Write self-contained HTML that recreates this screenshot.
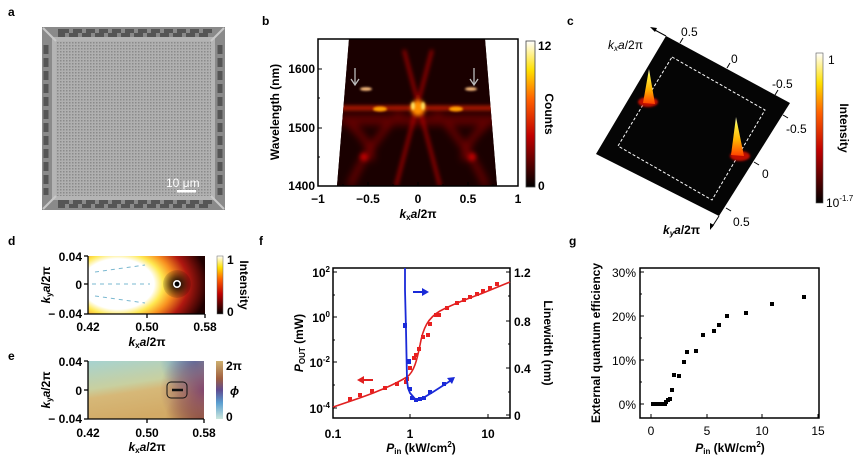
<!DOCTYPE html>
<html><head><meta charset="utf-8"><style>
html,body{margin:0;padding:0;background:#fff}
svg{display:block;font-family:"Liberation Sans",Arial,sans-serif}
.t{font-size:12px;fill:#000}
.tb{font-size:12px;font-weight:bold;fill:#000}
.lb{font-size:12px;font-weight:bold;fill:#000}
</style></head><body>
<svg width="865" height="464" viewBox="0 0 865 464" xmlns="http://www.w3.org/2000/svg">
<defs>
<filter id="bl2" x="-50%" y="-50%" width="200%" height="200%"><feGaussianBlur stdDeviation="2"/></filter>
<filter id="bl1" x="-50%" y="-50%" width="200%" height="200%"><feGaussianBlur stdDeviation="1"/></filter>
<filter id="bl4" x="-50%" y="-50%" width="200%" height="200%"><feGaussianBlur stdDeviation="4"/></filter>
<linearGradient id="hot" x1="0" y1="1" x2="0" y2="0">
<stop offset="0" stop-color="#000"/><stop offset="0.35" stop-color="#c00000"/><stop offset="0.6" stop-color="#ff6000"/><stop offset="0.8" stop-color="#ffe000"/><stop offset="1" stop-color="#fff"/></linearGradient>
<linearGradient id="phs" x1="0" y1="0" x2="0" y2="1">
<stop offset="0" stop-color="#cdb070"/><stop offset="0.3" stop-color="#a06040"/><stop offset="0.5" stop-color="#604c90"/><stop offset="0.72" stop-color="#5a9ed0"/><stop offset="1" stop-color="#cce6dc"/></linearGradient>
<pattern id="grid" width="3" height="3" patternUnits="userSpaceOnUse"><rect width="3" height="3" fill="#b0b0b0"/><rect width="1.5" height="1.5" fill="#8a8a8a"/></pattern>
<radialGradient id="dg" cx="118" cy="284" r="90" gradientUnits="userSpaceOnUse" gradientTransform="translate(118 284) scale(1 0.7) translate(-118 -284)">
<stop offset="0" stop-color="#fff"/><stop offset="0.4" stop-color="#fff"/><stop offset="0.5" stop-color="#ffe850"/><stop offset="0.62" stop-color="#f89020"/><stop offset="0.78" stop-color="#b01810"/><stop offset="1" stop-color="#200000"/></radialGradient>
<radialGradient id="dk" cx="177" cy="284" r="16" gradientUnits="userSpaceOnUse"><stop offset="0" stop-color="#000"/><stop offset="1" stop-color="#000" stop-opacity="0"/></radialGradient>
<linearGradient id="ev" x1="0" y1="0" x2="0.3" y2="1"><stop offset="0" stop-color="#a6d2d0"/><stop offset="0.45" stop-color="#c8d0a0"/><stop offset="0.6" stop-color="#d6b878"/><stop offset="1" stop-color="#d2aa66"/></linearGradient>
<radialGradient id="er" cx="205" cy="390" r="45" gradientUnits="userSpaceOnUse"><stop offset="0" stop-color="#7a3c70" stop-opacity="0.9"/><stop offset="0.6" stop-color="#8a5060" stop-opacity="0.5"/><stop offset="1" stop-color="#8a5060" stop-opacity="0"/></radialGradient>
<radialGradient id="eb" cx="195" cy="361" r="35" gradientUnits="userSpaceOnUse"><stop offset="0" stop-color="#4a7cc0"/><stop offset="1" stop-color="#4a7cc0" stop-opacity="0"/></radialGradient>
<radialGradient id="ebr" cx="200" cy="419" r="35" gradientUnits="userSpaceOnUse"><stop offset="0" stop-color="#9a5a30"/><stop offset="1" stop-color="#9a5a30" stop-opacity="0"/></radialGradient>
<linearGradient id="cone" x1="0" y1="1" x2="0" y2="0"><stop offset="0" stop-color="#ff4000"/><stop offset="0.4" stop-color="#ffb000"/><stop offset="0.8" stop-color="#ffee40"/><stop offset="1" stop-color="#ffffe0"/></linearGradient>
<clipPath id="bclip"><polygon points="349,39 485,39 497,186 337,186"/></clipPath>
</defs>

<text x="8" y="16" class="lb">a</text>
<text x="262" y="25" class="lb">b</text>
<text x="567" y="25" class="lb">c</text>
<text x="8" y="245" class="lb">d</text>
<text x="8" y="360" class="lb">e</text>
<text x="259" y="245" class="lb">f</text>
<text x="569" y="245" class="lb">g</text>

<!-- panel a -->
<rect x="42" y="27" width="183" height="183" fill="#8a8a8a"/>
<rect x="52" y="37" width="163" height="163" fill="#b4b4b4"/>
<rect x="56" y="41" width="155" height="155" fill="url(#grid)"/>
<rect x="60" y="31" width="150" height="4" fill="none" stroke="#555" stroke-width="4" stroke-dasharray="9 4"/>
<rect x="60" y="202" width="150" height="4" fill="none" stroke="#555" stroke-width="4" stroke-dasharray="9 4"/>
<line x1="46" y1="45" x2="46" y2="195" stroke="#555" stroke-width="5" stroke-dasharray="9 4"/>
<line x1="220" y1="45" x2="220" y2="195" stroke="#555" stroke-width="5" stroke-dasharray="9 4"/>
<line x1="43" y1="28" x2="56" y2="41" stroke="#c8c8c8" stroke-width="2"/>
<line x1="224" y1="28" x2="211" y2="41" stroke="#c8c8c8" stroke-width="2"/>
<line x1="43" y1="209" x2="56" y2="196" stroke="#c8c8c8" stroke-width="2"/>
<line x1="224" y1="209" x2="211" y2="196" stroke="#c8c8c8" stroke-width="2"/>
<text x="166" y="187" font-size="12" fill="#fff">10 μm</text>
<rect x="177" y="190" width="19" height="2.5" fill="#fff"/>

<!-- panel b -->
<polygon points="349,39 485,39 497,186 337,186" fill="#140000"/>
<g clip-path="url(#bclip)">
<rect x="330" y="39" width="180" height="147" fill="#1a0000"/>
<g filter="url(#bl4)" stroke="#800000" stroke-width="5" fill="none">
<path d="M350,125 Q370,140 372,160"/><path d="M486,125 Q466,140 464,160"/>
<path d="M400,112 Q365,150 350,186"/><path d="M436,112 Q471,150 486,186"/>
<line x1="340" y1="120" x2="496" y2="120" stroke="#600000" stroke-width="10"/>
</g>
<g filter="url(#bl2)" stroke="#c00800" stroke-width="2.5" fill="none">
<line x1="404" y1="50" x2="440" y2="186"/><line x1="432" y1="50" x2="396" y2="186"/>
<line x1="340" y1="108" x2="496" y2="108" stroke="#e82000" stroke-width="3.5"/>
</g>
<ellipse cx="418" cy="108" rx="7" ry="8" fill="#ff9000" filter="url(#bl2)"/>
<ellipse cx="413" cy="106" rx="2" ry="4" fill="#ffe060" filter="url(#bl1)"/>
<ellipse cx="423" cy="106" rx="2" ry="4" fill="#ffe060" filter="url(#bl1)"/>
<ellipse cx="380" cy="109" rx="7" ry="2.5" fill="#ffa000" filter="url(#bl1)"/>
<ellipse cx="456" cy="109" rx="7" ry="2.5" fill="#ffa000" filter="url(#bl1)"/>
<line x1="345" y1="108" x2="490" y2="108" stroke="#ff7000" stroke-width="1.2" filter="url(#bl1)"/>
<ellipse cx="364" cy="157" rx="4" ry="4" fill="#c00000" filter="url(#bl2)"/>
<ellipse cx="472" cy="157" rx="4" ry="4" fill="#c00000" filter="url(#bl2)"/>
<ellipse cx="366" cy="89" rx="6" ry="1.8" fill="#ffc080" filter="url(#bl1)"/>
<ellipse cx="471" cy="89" rx="6" ry="1.8" fill="#ffc080" filter="url(#bl1)"/>
</g>
<g stroke="#bbb" stroke-width="1.3" fill="none">
<line x1="355" y1="68" x2="355" y2="84"/><polyline points="351,79 355,85 359,79"/>
<line x1="474" y1="68" x2="474" y2="84"/><polyline points="470,79 474,85 478,79"/>
</g>
<rect x="318" y="39" width="200" height="147" fill="none" stroke="#000" stroke-width="1.5"/>
<g stroke="#000" stroke-width="1">
<line x1="318" y1="69" x2="322" y2="69"/><line x1="318" y1="128" x2="322" y2="128"/><line x1="318" y1="98" x2="320" y2="98"/><line x1="318" y1="157" x2="320" y2="157"/>
<line x1="368" y1="186" x2="368" y2="182"/><line x1="418" y1="186" x2="418" y2="182"/><line x1="468" y1="186" x2="468" y2="182"/>
<line x1="343" y1="186" x2="343" y2="184"/><line x1="393" y1="186" x2="393" y2="184"/><line x1="443" y1="186" x2="443" y2="184"/><line x1="493" y1="186" x2="493" y2="184"/>
</g>
<g class="tb" text-anchor="end"><text x="315" y="73">1600</text><text x="315" y="132">1500</text><text x="315" y="190">1400</text></g>
<g class="tb" text-anchor="middle"><text x="318" y="203">−1</text><text x="368" y="203">−0.5</text><text x="418" y="203">0</text><text x="468" y="203">0.5</text><text x="518" y="203">1</text></g>
<text class="tb" text-anchor="middle" transform="translate(279 112) rotate(-90)">Wavelength (nm)</text>
<text class="tb" x="418" y="218" text-anchor="middle"><tspan font-style="italic">k</tspan><tspan font-size="8" dy="2">x</tspan><tspan dy="-2" font-style="italic">a</tspan>/2π</text>
<rect x="526" y="41" width="9" height="146" fill="url(#hot)" stroke="#444" stroke-width="0.8"/>
<text class="tb" x="538" y="50">12</text><text class="tb" x="538" y="190">0</text>
<text class="tb" text-anchor="middle" transform="translate(545 114) rotate(90)">Counts</text>

<!-- panel c -->
<polygon points="666,36 790,103 719,216 596,154" fill="#050505"/>
<polygon points="672,57 765,110 712,200 618,146" fill="none" stroke="#fff" stroke-width="1" stroke-dasharray="3 2"/>
<ellipse cx="648" cy="102" rx="10" ry="5" fill="#c01000" filter="url(#bl1)"/>
<polygon points="649,69 643,103 655,104" fill="url(#cone)"/>
<ellipse cx="740" cy="156" rx="10" ry="5" fill="#c01000" filter="url(#bl1)"/>
<polygon points="736,117 731,155 744,156" fill="url(#cone)"/>
<g stroke="#000" stroke-width="1"><line x1="680" y1="43" x2="683" y2="38"/><line x1="727" y1="68" x2="730" y2="63"/><line x1="775" y1="95" x2="778" y2="90"/>
<line x1="783" y1="115" x2="788" y2="118"/><line x1="754" y1="162" x2="759" y2="165"/><line x1="726" y1="208" x2="731" y2="211"/></g>
<line x1="666" y1="36" x2="653" y2="29" stroke="#000"/><polygon points="650,27 657,28 655,32" fill="#000"/>
<line x1="719" y1="216" x2="712" y2="227" stroke="#000"/><polygon points="710,230 710,223 714,225" fill="#000"/>
<g class="t" font-size="13"><text x="681" y="36">0.5</text><text x="731" y="63">0</text><text x="772" y="88">-0.5</text><text x="786" y="133">-0.5</text><text x="762" y="178">0</text><text x="733" y="226">0.5</text></g>
<text class="t" font-size="12" x="608" y="49"><tspan font-style="italic">k</tspan><tspan font-size="8" dy="2" font-style="italic">x</tspan><tspan dy="-2" font-style="italic">a</tspan>/2π</text>
<text class="tb" x="663" y="234"><tspan font-style="italic">k</tspan><tspan font-size="8" dy="2" font-style="italic">y</tspan><tspan dy="-2" font-style="italic">a</tspan>/2π</text>
<rect x="816" y="53" width="7" height="150" fill="url(#hot)" stroke="#555" stroke-width="0.6"/>
<text class="t" x="828" y="64" font-size="13">1</text>
<text class="t" x="826" y="207" font-size="13">10<tspan font-size="8" dy="-6">-1.7</tspan></text>
<text class="tb" text-anchor="middle" transform="translate(840 128) rotate(90)">Intensity</text>

<!-- panel d -->
<rect x="88" y="256" width="117" height="58" fill="url(#dg)"/>
<circle cx="177" cy="284" r="14" fill="url(#dk)"/>
<circle cx="177" cy="284" r="3.2" fill="#000" stroke="#fff" stroke-width="1.6"/>
<g stroke="#7ab8d0" stroke-width="1" stroke-dasharray="4 4"><line x1="92" y1="284" x2="150" y2="284"/><line x1="95" y1="272" x2="145" y2="265"/><line x1="95" y1="296" x2="145" y2="303"/></g>
<g stroke="#000" stroke-width="1.3"><line x1="88" y1="256" x2="88" y2="314"/><line x1="88" y1="314" x2="205" y2="314"/>
<line x1="84" y1="256" x2="88" y2="256"/><line x1="84" y1="284" x2="88" y2="284"/><line x1="84" y1="314" x2="88" y2="314"/>
<line x1="147" y1="314" x2="147" y2="318"/><line x1="205" y1="314" x2="205" y2="318"/></g>
<g class="tb" font-size="13" text-anchor="end"><text x="82" y="261">0.04</text><text x="82" y="289">0</text><text x="82" y="318">− 0.04</text></g>
<g class="tb" font-size="13" text-anchor="middle"><text x="88" y="331">0.42</text><text x="147" y="331">0.50</text><text x="205" y="331">0.58</text></g>
<text class="tb" font-size="13" x="147" y="346" text-anchor="middle"><tspan font-style="italic">k</tspan><tspan font-size="8" dy="2">x</tspan><tspan dy="-2" font-style="italic">a</tspan>/2π</text>
<text class="tb" font-size="13" text-anchor="middle" transform="translate(50 285) rotate(-90)"><tspan font-style="italic">k</tspan><tspan font-size="8" dy="2">y</tspan><tspan dy="-2" font-style="italic">a</tspan>/2π</text>
<rect x="217" y="256" width="6" height="58" fill="url(#hot)" stroke="#666" stroke-width="0.5"/>
<text class="tb" font-size="13" x="227" y="264">1</text><text class="tb" font-size="13" x="227" y="316">0</text>
<text class="tb" text-anchor="middle" transform="translate(240 285) rotate(90)">Intensity</text>

<!-- panel e -->
<rect x="88" y="361" width="116" height="58" fill="url(#ev)"/>
<rect x="88" y="361" width="116" height="58" fill="url(#eb)"/>
<rect x="88" y="361" width="116" height="58" fill="url(#ebr)"/>
<rect x="88" y="361" width="116" height="58" fill="url(#er)"/>
<rect x="167" y="382" width="20" height="16" rx="4" fill="none" stroke="#111" stroke-width="1"/>
<line x1="172" y1="390" x2="183" y2="390" stroke="#111" stroke-width="2.5"/>
<g stroke="#000" stroke-width="1.3"><line x1="88" y1="361" x2="88" y2="419"/><line x1="88" y1="419" x2="204" y2="419"/>
<line x1="84" y1="361" x2="88" y2="361"/><line x1="84" y1="390" x2="88" y2="390"/><line x1="84" y1="419" x2="88" y2="419"/>
<line x1="147" y1="419" x2="147" y2="423"/><line x1="204" y1="419" x2="204" y2="423"/></g>
<g class="tb" font-size="13" text-anchor="end"><text x="82" y="366">0.04</text><text x="82" y="395">0</text><text x="82" y="423">− 0.04</text></g>
<g class="tb" font-size="13" text-anchor="middle"><text x="88" y="437">0.42</text><text x="147" y="437">0.50</text><text x="204" y="437">0.58</text></g>
<text class="tb" font-size="13" x="147" y="451" text-anchor="middle"><tspan font-style="italic">k</tspan><tspan font-size="8" dy="2">x</tspan><tspan dy="-2" font-style="italic">a</tspan>/2π</text>
<text class="tb" font-size="13" text-anchor="middle" transform="translate(50 390) rotate(-90)"><tspan font-style="italic">k</tspan><tspan font-size="8" dy="2">y</tspan><tspan dy="-2" font-style="italic">a</tspan>/2π</text>
<rect x="216" y="361" width="7" height="58" fill="url(#phs)"/>
<text class="tb" font-size="13" x="226" y="370">2π</text>
<text class="tb" font-size="14" x="230" y="395" font-style="italic">ϕ</text>
<text class="tb" font-size="13" x="226" y="421">0</text>

<!-- panel f -->
<rect x="333" y="268" width="177" height="150" fill="none" stroke="#000" stroke-width="1.5"/>
<g stroke="#000" stroke-width="1">
<line x1="333" y1="272" x2="337" y2="272"/><line x1="333" y1="317" x2="337" y2="317"/><line x1="333" y1="362" x2="337" y2="362"/><line x1="333" y1="408" x2="337" y2="408"/>
<line x1="333" y1="295" x2="335" y2="295"/><line x1="333" y1="340" x2="335" y2="340"/><line x1="333" y1="385" x2="335" y2="385"/>
<line x1="410" y1="418" x2="410" y2="414"/><line x1="488" y1="418" x2="488" y2="414"/>
<line x1="510" y1="272" x2="506" y2="272"/><line x1="510" y1="321" x2="506" y2="321"/><line x1="510" y1="368" x2="506" y2="368"/><line x1="510" y1="415" x2="506" y2="415"/>
<line x1="510" y1="296" x2="508" y2="296"/><line x1="510" y1="344" x2="508" y2="344"/><line x1="510" y1="392" x2="508" y2="392"/>
</g>
<g class="tb" text-anchor="end"><text x="330" y="277">10<tspan font-size="8" dy="-5">2</tspan></text><text x="330" y="322">10<tspan font-size="8" dy="-5">0</tspan></text><text x="330" y="367">10<tspan font-size="8" dy="-5">-2</tspan></text><text x="330" y="413">10<tspan font-size="8" dy="-5">-4</tspan></text></g>
<g class="tb" font-size="13"><text x="514" y="277">1.2</text><text x="514" y="326">0.8</text><text x="514" y="373">0.4</text><text x="514" y="420">0</text></g>
<g class="tb" font-size="13" text-anchor="middle"><text x="333" y="438">0.1</text><text x="410" y="438">1</text><text x="488" y="438">10</text></g>
<text class="tb" font-size="13" x="421" y="452" text-anchor="middle"><tspan font-style="italic">P</tspan><tspan font-size="8" dy="2">in</tspan><tspan dy="-2"> (kW/cm</tspan><tspan font-size="8" dy="-5">2</tspan><tspan dy="5">)</tspan></text>
<text class="tb" font-size="13" text-anchor="middle" transform="translate(303 343) rotate(-90)"><tspan font-style="italic">P</tspan><tspan font-size="8" dy="2">OUT</tspan><tspan dy="-2"> (mW)</tspan></text>
<text class="tb" font-size="13" text-anchor="middle" transform="translate(544 343) rotate(90)">Linewidth (nm)</text>
<path d="M333,407 C360,398 385,390 407,377 C414,372 417,360 420,345 C423,328 428,318 440,311 C455,303 470,298 483,293 L510,282" fill="none" stroke="#e02020" stroke-width="1.6"/>
<g fill="#e82020">
<rect x="348" y="397" width="4" height="4"/><rect x="358" y="393" width="4" height="4"/><rect x="370" y="389" width="4" height="4"/><rect x="383" y="386" width="4" height="4"/><rect x="395" y="382" width="4" height="4"/><rect x="404" y="380" width="4" height="4"/><rect x="405" y="377" width="4" height="4"/><rect x="408" y="366" width="4" height="4"/><rect x="412" y="356" width="4" height="4"/><rect x="414" y="353" width="4" height="4"/><rect x="417" y="347" width="4" height="4"/><rect x="421" y="335" width="4" height="4"/><rect x="426" y="333" width="4" height="4"/><rect x="428" y="322" width="4" height="4"/><rect x="434" y="313" width="4" height="4"/><rect x="437" y="313" width="4" height="4"/><rect x="445" y="306" width="4" height="4"/><rect x="455" y="301" width="4" height="4"/><rect x="462" y="298" width="4" height="4"/><rect x="468" y="295" width="4" height="4"/><rect x="475" y="292" width="4" height="4"/><rect x="481" y="289" width="4" height="4"/><rect x="488" y="286" width="4" height="4"/><rect x="495" y="282" width="4" height="4"/>
</g>
<path d="M405,268 L405,290 406,330 407,380 408,388 L410,393 416,400 423,398 433,392 447,383 453,379" fill="none" stroke="#1a2ad8" stroke-width="1.8"/>
<g fill="#1a2ad8">
<rect x="403" y="323" width="4" height="5"/><rect x="407" y="359" width="4" height="5"/><rect x="408" y="387" width="4" height="4"/><rect x="410" y="396" width="4" height="4"/><rect x="414" y="398" width="4" height="4"/><rect x="418" y="397" width="4" height="4"/><rect x="422" y="396" width="4" height="4"/><rect x="428" y="390" width="4" height="4"/><rect x="442" y="382" width="4" height="4"/>
</g>
<polygon points="455,377 447,378 452,384" fill="#1a2ad8"/>
<line x1="413" y1="292" x2="424" y2="292" stroke="#1a2ad8" stroke-width="2"/><polygon points="429,292 422,288 422,296" fill="#1a2ad8"/>
<line x1="362" y1="380" x2="373" y2="380" stroke="#e02020" stroke-width="2"/><polygon points="357,380 364,376 364,384" fill="#e02020"/>

<!-- panel g -->
<rect x="640" y="268" width="179" height="150" fill="none" stroke="#000" stroke-width="1.5"/>
<g stroke="#000" stroke-width="1">
<line x1="640" y1="272" x2="644" y2="272"/><line x1="640" y1="316" x2="644" y2="316"/><line x1="640" y1="360" x2="644" y2="360"/><line x1="640" y1="404" x2="644" y2="404"/>
<line x1="640" y1="294" x2="642" y2="294"/><line x1="640" y1="338" x2="642" y2="338"/><line x1="640" y1="382" x2="642" y2="382"/>
<line x1="651" y1="418" x2="651" y2="414"/><line x1="707" y1="418" x2="707" y2="414"/><line x1="762" y1="418" x2="762" y2="414"/><line x1="818" y1="418" x2="818" y2="414"/>
</g>
<g class="t" font-size="13" text-anchor="end"><text x="636" y="277">30%</text><text x="636" y="321">20%</text><text x="636" y="365">10%</text><text x="636" y="409">0%</text></g>
<g class="t" font-size="13" text-anchor="middle"><text x="651" y="435">0</text><text x="707" y="435">5</text><text x="762" y="435">10</text><text x="818" y="435">15</text></g>
<text class="tb" font-size="13" x="730" y="452" text-anchor="middle"><tspan font-style="italic">P</tspan><tspan font-size="8" dy="2">in</tspan><tspan dy="-2"> (kW/cm</tspan><tspan font-size="8" dy="-5">2</tspan><tspan dy="5">)</tspan></text>
<text class="tb" font-size="13" text-anchor="middle" transform="translate(600 343) rotate(-90)">External quantum efficiency</text>
<g fill="#000">
<rect x="651" y="402" width="4" height="4"/><rect x="653" y="402" width="4" height="4"/><rect x="655" y="402" width="4" height="4"/><rect x="657" y="402" width="4" height="4"/><rect x="659" y="402" width="4" height="4"/><rect x="661" y="402" width="4" height="4"/><rect x="663" y="402" width="4" height="4"/><rect x="664" y="400" width="4" height="4"/><rect x="666" y="398" width="4" height="4"/><rect x="668" y="397" width="4" height="4"/>
<rect x="670" y="388" width="4" height="4"/><rect x="672" y="373" width="4" height="4"/><rect x="677" y="374" width="4" height="4"/><rect x="682" y="360" width="4" height="4"/><rect x="685" y="350" width="4" height="4"/><rect x="694" y="349" width="4" height="4"/><rect x="701" y="333" width="4" height="4"/><rect x="712" y="329" width="4" height="4"/><rect x="717" y="323" width="4" height="4"/><rect x="725" y="314" width="4" height="4"/><rect x="744" y="311" width="4" height="4"/><rect x="770" y="302" width="4" height="4"/><rect x="802" y="295" width="4" height="4"/>
</g>
</svg>
</body></html>
